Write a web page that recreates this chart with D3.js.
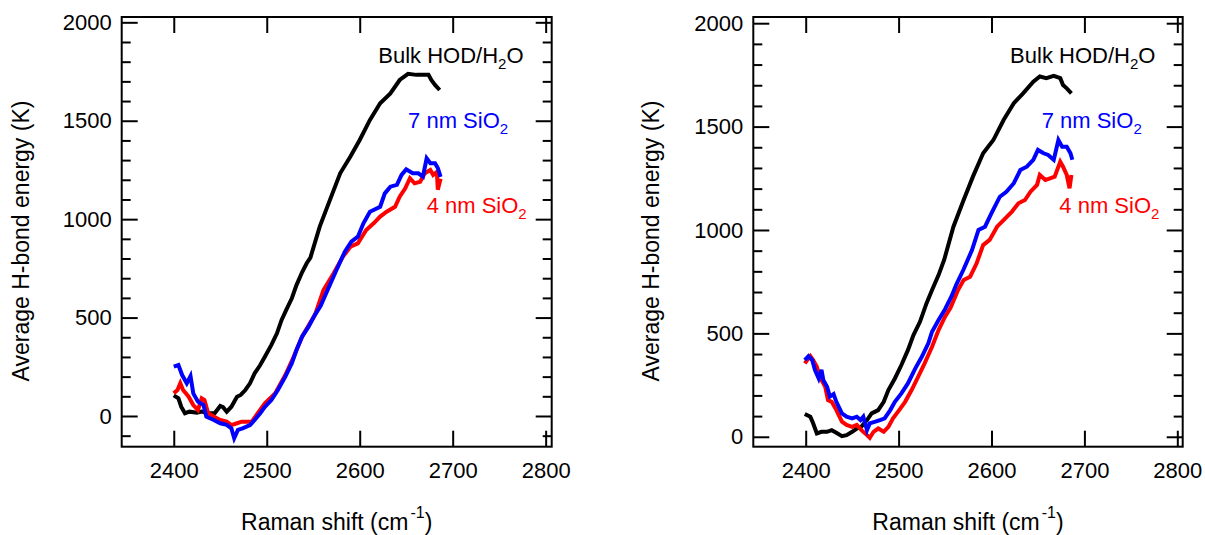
<!DOCTYPE html>
<html>
<head>
<meta charset="utf-8">
<script src="https://cdn.jsdelivr.net/npm/d3@7"></script>
<style>
body{margin:0;background:#fff;}
svg{display:block;font-family:"Liberation Sans",Arial,sans-serif;}
</style>
</head>
<body>
<div id="chart"></div>
<script>

// tick values
var xTicks=[2400,2500,2600,2700,2800];
var yTicks=[0,500,1000,1500,2000];
var yMinorTicks=[-100,100,200,300,400,600,700,800,900,1100,1200,1300,1400,1600,1700,1800,1900];

// left panel series [Raman shift, energy]
var bulkLeft=[[2400,105],[2405,90],[2408,47],[2412,14],[2417,22],[2425,17],[2430,22],[2437,14],[2444,14],[2450,51],[2453,45],[2457,22],[2462,47],[2468,98],[2472,107],[2477,132],[2482,166],[2487,217],[2493,259],[2498,301],[2505,361],[2511,420],[2516,488],[2521,539],[2527,598],[2532,665],[2538,730],[2543,776],[2547,805],[2557,962],[2568,1098],[2579,1233],[2590,1318],[2600,1402],[2611,1504],[2622,1589],[2633,1639],[2643,1707],[2652,1738],[2661,1733],[2674,1733],[2677,1707],[2681,1682],[2686,1656]];
var sio7Left=[[2400,251],[2405,259],[2409,208],[2414,166],[2418,203],[2421,115],[2426,73],[2432,56],[2435,-3],[2443,-20],[2450,-37],[2457,-45],[2462,-63],[2465,-113],[2469,-71],[2474,-63],[2482,-46],[2487,-20],[2493,14],[2498,47],[2505,81],[2512,132],[2520,200],[2527,268],[2532,335],[2538,403],[2545,454],[2552,515],[2558,560],[2565,635],[2575,742],[2584,835],[2591,886],[2598,911],[2604,979],[2611,1038],[2622,1063],[2627,1131],[2633,1165],[2640,1174],[2645,1225],[2650,1253],[2657,1233],[2663,1233],[2668,1216],[2672,1309],[2676,1284],[2681,1284],[2684,1260],[2687,1215]];
var sio4Left=[[2400,115],[2404,132],[2407,166],[2410,132],[2416,98],[2421,56],[2426,30],[2430,90],[2433,81],[2437,14],[2443,-3],[2450,-20],[2457,-29],[2462,-46],[2468,-37],[2473,-29],[2478,-29],[2484,-29],[2489,5],[2498,64],[2509,115],[2520,208],[2529,301],[2538,403],[2545,460],[2552,515],[2561,640],[2572,725],[2582,810],[2590,860],[2598,877],[2607,945],[2615,979],[2622,1013],[2629,1038],[2638,1063],[2643,1114],[2649,1157],[2654,1208],[2659,1182],[2665,1190],[2670,1233],[2676,1250],[2679,1225],[2683,1240],[2684,1150],[2687,1205]];

// right panel series
var bulkRight=[[2399,110],[2405,97],[2408,65],[2412,16],[2417,24],[2423,24],[2428,32],[2433,19],[2439,3],[2444,8],[2450,24],[2455,40],[2460,49],[2466,81],[2471,113],[2478,129],[2484,169],[2489,226],[2496,282],[2503,347],[2510,419],[2516,492],[2523,556],[2530,645],[2536,710],[2543,782],[2549,855],[2559,1016],[2570,1145],[2580,1258],[2591,1371],[2602,1435],[2613,1532],[2624,1613],[2634,1661],[2645,1717],[2652,1742],[2659,1734],[2667,1745],[2674,1734],[2677,1701],[2681,1685],[2686,1661]];
var sio7Right=[[2399,371],[2403,390],[2407,371],[2410,323],[2414,282],[2417,323],[2419,274],[2423,242],[2426,194],[2430,206],[2433,169],[2439,113],[2444,97],[2450,89],[2455,97],[2459,81],[2462,97],[2466,32],[2469,65],[2475,73],[2480,81],[2485,89],[2491,129],[2496,169],[2503,210],[2510,258],[2518,331],[2525,387],[2532,452],[2536,508],[2543,565],[2550,617],[2557,680],[2562,735],[2570,810],[2579,903],[2586,1000],[2593,1016],[2600,1081],[2609,1161],[2616,1185],[2624,1226],[2631,1290],[2638,1306],[2645,1339],[2650,1387],[2656,1371],[2661,1363],[2667,1339],[2672,1435],[2676,1403],[2681,1403],[2685,1371],[2687,1340]];
var sio4Right=[[2399,355],[2405,390],[2408,371],[2412,339],[2415,290],[2421,242],[2424,177],[2428,169],[2433,129],[2439,73],[2444,57],[2450,48],[2455,57],[2460,32],[2466,8],[2469,-5],[2473,24],[2478,40],[2484,24],[2489,48],[2494,89],[2502,137],[2507,169],[2514,226],[2521,290],[2528,355],[2536,435],[2543,516],[2550,581],[2556,625],[2564,710],[2570,758],[2577,774],[2584,839],[2591,927],[2598,952],[2606,1016],[2613,1048],[2622,1089],[2629,1129],[2636,1145],[2642,1185],[2649,1218],[2652,1266],[2658,1242],[2663,1250],[2668,1258],[2674,1330],[2677,1306],[2681,1266],[2684,1202],[2686,1266]];

var seriesColors=["#000000","#ff0000","#0000ff"];

// label anchors in data units [x, y]
var labelPosLeft=[[2620,1795],[2672,1030],[2652,1465]];
var labelPosRight=[[2620,1809],[2673,1081],[2654,1495]];

var width=1205, height=535;
var svg=d3.select("#chart").append("svg")
  .attr("width",width).attr("height",height);
svg.append("rect").attr("width",width).attr("height",height).attr("fill","#fff");

function drawPanel(p){
  var x=d3.scaleLinear().domain(p.xDomain).range([p.left,p.right]);
  var y=d3.scaleLinear().domain(p.yDomain).range([p.bottom,p.top]);
  var g=svg.append("g");
  var fmt=d3.format("d");

  var minor=yMinorTicks.filter(v => v>=p.yDomain[0] && v<=p.yDomain[1]);

  g.append("g").attr("class","ax").attr("transform",`translate(${p.left},0)`)
    .call(d3.axisLeft(y).tickValues(minor).tickSize(-9).tickFormat(""));
  g.append("g").attr("class","ax").attr("transform",`translate(${p.right},0)`)
    .call(d3.axisRight(y).tickValues(minor).tickSize(-9).tickFormat(""));
  g.append("g").attr("class","ax").attr("transform",`translate(${p.left},0)`)
    .call(d3.axisLeft(y).tickValues(yTicks).tickSize(-16).tickPadding(10).tickFormat(fmt));
  g.append("g").attr("class","ax").attr("transform",`translate(${p.right},0)`)
    .call(d3.axisRight(y).tickValues(yTicks).tickSize(-16).tickFormat(""));
  g.append("g").attr("class","ax").attr("transform",`translate(0,${p.bottom})`)
    .call(d3.axisBottom(x).tickValues(xTicks).tickSize(-16).tickPadding(16).tickFormat(fmt));
  g.append("g").attr("class","ax").attr("transform",`translate(0,${p.top})`)
    .call(d3.axisTop(x).tickValues(xTicks).tickSize(-16).tickFormat(""));

  g.selectAll(".ax .domain").remove();
  g.selectAll(".ax line").attr("stroke","#000").attr("stroke-width",2);
  g.selectAll(".ax text").attr("fill","#000")
    .style("font-family","'Liberation Sans',Arial,sans-serif")
    .style("font-size","22px");

  g.append("rect")
    .attr("x",p.left).attr("y",p.top)
    .attr("width",p.right-p.left).attr("height",p.bottom-p.top)
    .attr("fill","none").attr("stroke","#000").attr("stroke-width",2);

  var line=d3.line().x(d => x(d[0])).y(d => y(d[1]));
  for(var i=0;i<p.series.length;i++){
    g.append("path").datum(p.series[i])
      .attr("d",line)
      .attr("fill","none")
      .attr("stroke",seriesColors[i])
      .attr("stroke-width",4);
  }

  // annotations
  var names=[["Bulk HOD/H","2","O"],["4 nm SiO","2",""],["7 nm SiO","2",""]];
  for(var j=0;j<names.length;j++){
    var t=g.append("text")
      .attr("x",x(p.labels[j][0])).attr("y",y(p.labels[j][1]))
      .attr("fill",seriesColors[j])
      .style("font-size","22px");
    t.append("tspan").text(names[j][0]);
    t.append("tspan").attr("dy",6).style("font-size","15px").text(names[j][1]);
    if(names[j][2]) t.append("tspan").attr("dy",-6).text(names[j][2]);
  }

  // axis titles
  g.append("text")
    .attr("transform",`translate(${p.yTitleX},241) rotate(-90)`)
    .attr("text-anchor","middle")
    .style("font-size","23px")
    .text("Average H-bond energy (K)");

  var xt=g.append("text")
    .attr("x",(p.left+p.right)/2).attr("y",530)
    .attr("text-anchor","middle")
    .style("font-size","23px");
  xt.append("tspan").text("Raman shift (cm");
  xt.append("tspan").attr("dy",-12).attr("dx",2).style("font-size","16px").text("-1");
  xt.append("tspan").attr("dy",12).text(")");
}

drawPanel({
  xDomain:[2344,2806.5], yDomain:[-156,2027],
  left:121.7, right:551.7, top:17, bottom:446.7,
  yTitleX:28.5,
  series:[bulkLeft,sio4Left,sio7Left],
  labels:labelPosLeft
});

drawPanel({
  xDomain:[2343.6,2805.8], yDomain:[-48,2030],
  left:753.3, right:1182.7, top:17, bottom:446.7,
  yTitleX:658.5,
  series:[bulkRight,sio4Right,sio7Right],
  labels:labelPosRight
});

</script>
</body>
</html>
